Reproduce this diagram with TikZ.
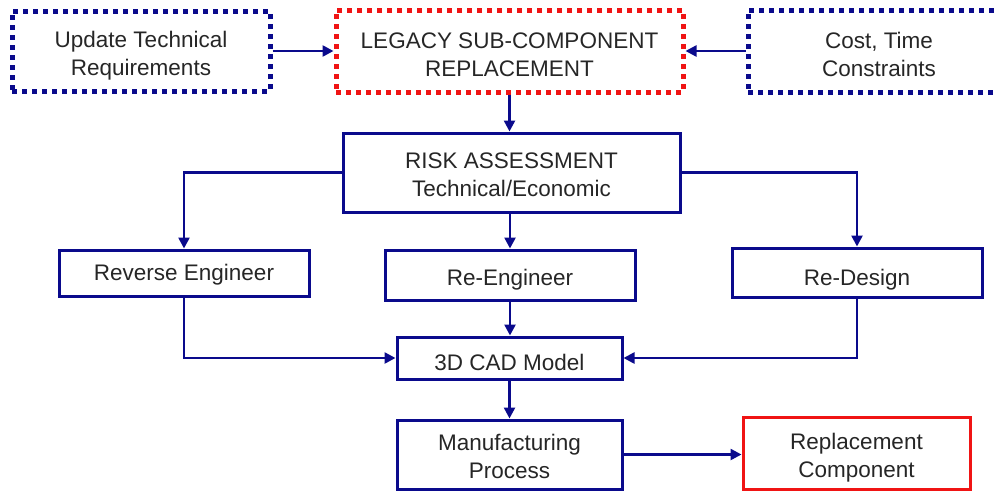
\documentclass[tikz,border=0pt]{standalone}
\usepackage{fontspec}
\setmainfont{Liberation Sans}
\usetikzlibrary{arrows.meta}
\definecolor{navy}{RGB}{10,10,140}
\definecolor{bred}{RGB}{240,20,20}
\begin{document}
\begin{tikzpicture}[x=1pt,y=-1pt,
  box/.style={draw=navy,line width=3pt,rectangle,inner sep=0pt},
  dotbox/.style={box,line width=5pt,dash pattern=on 5pt off 5pt},
  txt/.style={align=center,inner sep=0pt,font=\fontsize{22.5}{28}\selectfont,text=black!85},
  arr/.style={draw=navy,line width=2.5pt,-{Triangle[length=11pt,width=11pt]}}]
\useasboundingbox (0,0) rectangle (996,490);
\node[dotbox,minimum width=258pt,minimum height=80pt] (upd) at (141,51) {};
\node[dotbox,draw=bred,minimum width=347pt,minimum height=82pt] (leg) at (509.5,51) {};
\node[dotbox,minimum width=262pt,minimum height=82pt] (cost) at (879,51) {};
\node[box,minimum width=337pt,minimum height=79pt] (risk) at (511.5,172.5) {};
\node[box,minimum width=250pt,minimum height=46pt] (rev) at (184,273) {};
\node[box,minimum width=250pt,minimum height=50pt] (reeng) at (510,275) {};
\node[box,minimum width=250pt,minimum height=49pt] (redes) at (857,272.5) {};
\node[box,minimum width=225pt,minimum height=42pt] (cad) at (509.5,358) {};
\node[box,minimum width=225pt,minimum height=69pt] (man) at (509.5,454.5) {};
\node[box,draw=bred,minimum width=227pt,minimum height=72pt] (rep) at (856.5,453) {};
\node[txt] (tupd) at ([yshift=-5pt]upd.center) {Update Technical\\Requirements};
\node[txt] (tleg) at ([yshift=-4pt]leg.center) {LEGACY SUB-COMPONENT\\REPLACEMENT};
\node[txt] (tcost) at ([yshift=-3pt]cost.center) {Cost, Time\\Constraints};
\node[txt] (trisk) at ([yshift=-2pt]risk.center) {RISK ASSESSMENT\\Technical/Economic};
\node[txt] (trev) at ([yshift=-2pt]rev.center) {Reverse Engineer};
\node[txt] (treeng) at ([yshift=-5pt]reeng.center) {Re-Engineer};
\node[txt] (tredes) at ([yshift=-7pt]redes.center) {Re-Design};
\node[txt] (tcad) at ([yshift=-4pt]cad.center) {3D CAD Model};
\node[txt] (tman) at ([yshift=-1.5pt]man.center) {Manufacturing\\Process};
\node[txt] (trep) at ([yshift=-5pt]rep.center) {Replacement\\Component};
\draw[arr] (upd.east) -- (upd.east -| leg.west);
\draw[arr] (cost.west) -- (cost.west -| leg.east);
\draw[arr] (leg.south) -- (leg.south |- risk.north);
\draw[arr] (risk.west) -| (rev.north);
\draw[arr] (risk.east) -| (redes.north);
\draw[arr] (reeng.north |- risk.south) -- (reeng.north);
\draw[arr] (reeng.south) -- (reeng.south |- cad.north);
\draw[arr] (rev.south) |- (cad.west);
\draw[arr] (redes.south) |- (cad.east);
\draw[arr] (cad.south) -- (cad.south |- man.north);
\draw[arr] (man.east) -- (man.east -| rep.west);
\end{tikzpicture}
\end{document}
